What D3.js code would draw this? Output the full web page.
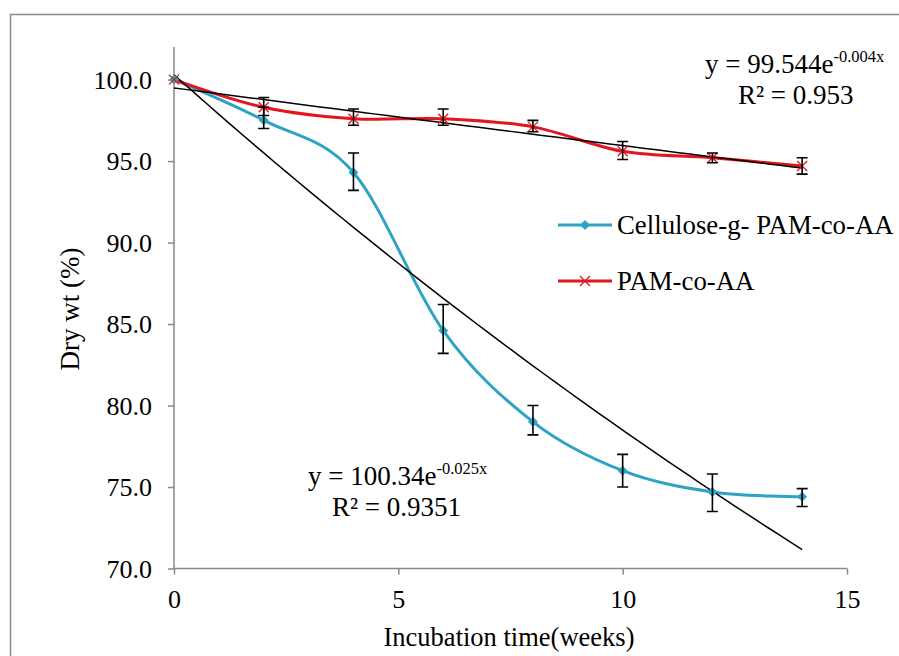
<!DOCTYPE html>
<html><head><meta charset="utf-8">
<script src="https://cdn.jsdelivr.net/npm/d3@7"></script>
<style>body{margin:0;background:#fff}svg{display:block}</style>
</head><body><svg id="c" width="899" height="656"></svg>
<script>
const weeks = [0, 2, 4, 6, 8, 10, 12, 14];
const celluloseVals = [100, 97.5, 94.3, 84.6, 79.0, 76.0, 74.7, 74.4];
const celluloseLo = [100, 97.0, 93.2, 83.2, 78.2, 75.0, 73.5, 73.8];
const celluloseHi = [100, 98.3, 95.5, 86.2, 80.0, 77.0, 75.8, 74.9];
const pamVals = [100, 98.3, 97.6, 97.6, 97.1, 95.6, 95.2, 94.7];
const pamLo = [100, 97.8, 97.2, 97.2, 96.8, 95.1, 94.9, 94.2];
const pamHi = [100, 98.9, 98.2, 98.2, 97.5, 96.2, 95.5, 95.2];
const xTicks = [0, 5, 10, 15];
const yTicks = [70, 75, 80, 85, 90, 95, 100];
const seriesNames = ["Cellulose-g- PAM-co-AA", "PAM-co-AA"];

const FONT = "Liberation Serif";
const svg = d3.select("#c");
const x = d3.scaleLinear().domain([0, 15]).range([174, 847]);
const y = d3.scaleLinear().domain([70, 102]).range([568.5, 47]);
const axisCol = "#898989";
const blue = "#2FA3C3", red = "#E2161F";

svg.append("rect").attr("x", 10.5).attr("y", 14.5).attr("width", 900).attr("height", 700)
  .attr("fill", "none").attr("stroke", "#8a8a8a").attr("stroke-width", 1.5);

// axes
const yAxis = svg.append("g").attr("transform", "translate(174,0)")
  .call(d3.axisLeft(y).tickValues(yTicks).tickSize(6).tickFormat(d3.format(".1f")));
const xAxis = svg.append("g").attr("transform", "translate(0,568.5)")
  .call(d3.axisBottom(x).tickValues(xTicks).tickSize(6).tickFormat(d3.format("d")));
[yAxis, xAxis].forEach(g => {
  g.selectAll("path,line").attr("stroke", axisCol).attr("stroke-width", 1.5);
  g.selectAll("text").attr("fill", "#000").style("font-family", FONT).style("font-size", "26px");
});
yAxis.select(".domain").attr("d", `M0,${y(102)}V${y(70)}`);
yAxis.selectAll("text").attr("x", -22).attr("dy", "0.34em");
xAxis.select(".domain").attr("d", `M${x(0)},0H${x(15)}`);
xAxis.selectAll("text").attr("y", 39.5).attr("dy", 0);

function txt(xp, yp, s, size, anchor) {
  return svg.append("text").attr("x", xp).attr("y", yp).style("font-family", FONT)
    .style("font-size", size + "px").attr("text-anchor", anchor || "start").attr("fill", "#000").text(s);
}
txt(0, 0, "Dry wt (%)", 27, "middle").attr("transform", "translate(79,309) rotate(-90)");
txt(509, 646, "Incubation time(weeks)", 26.5, "middle");

// exponential regression (Excel-like trendline)
function expFit(xs, ys) {
  const ly = ys.map(Math.log);
  const mx = d3.mean(xs), my = d3.mean(ly);
  const b = d3.sum(xs.map((v, i) => (v - mx) * (ly[i] - my))) / d3.sum(xs.map(v => (v - mx) ** 2));
  const a = Math.exp(my - b * mx);
  return t => a * Math.exp(b * t);
}
const fits = [expFit(weeks, celluloseVals), expFit(weeks, pamVals)];
const line = d3.line().x(d => x(d[0])).y(d => y(d[1]));
const lineSmooth = d3.line().x(d => x(d[0])).y(d => y(d[1])).curve(d3.curveCatmullRom.alpha(0));

const series = [
  {vals: celluloseVals, lo: celluloseLo, hi: celluloseHi, col: blue, mk: "diamond"},
  {vals: pamVals, lo: pamLo, hi: pamHi, col: red, mk: "x"}
];

function marker(g, cx, cy, type, col) {
  if (type === "diamond") {
    g.append("path").attr("d", `M${cx},${cy-5}L${cx+5},${cy}L${cx},${cy+5}L${cx-5},${cy}Z`).attr("fill", col);
  } else {
    g.append("path").attr("d", `M${cx-5},${cy-5}L${cx+5},${cy+5}M${cx-5},${cy+5}L${cx+5},${cy-5}`)
      .attr("stroke", col).attr("stroke-width", 1.3).attr("fill", "none");
  }
}

series.forEach(s => {
  svg.append("path").datum(weeks.map((w, i) => [w, s.vals[i]])).attr("d", lineSmooth)
    .attr("fill", "none").attr("stroke", s.col).attr("stroke-width", 3);
});
fits.forEach(f => {
  const pts = d3.range(0, 14.001, 0.25).map(t => [t, f(t)]);
  svg.append("path").datum(pts).attr("d", line).attr("fill", "none").attr("stroke", "#000").attr("stroke-width", 1.5);
});
series.forEach(s => {
  const g = svg.append("g");
  weeks.forEach((w, i) => marker(g, x(w), y(s.vals[i]), s.mk, s.col));
});
series.forEach(s => {
  const g = svg.append("g").attr("stroke", "#000").attr("stroke-width", 1.6).attr("fill", "none");
  weeks.forEach((w, i) => {
    if (s.hi[i] === s.lo[i]) return;
    const cx = x(w), y1 = y(s.hi[i]), y2 = y(s.lo[i]);
    g.append("path").attr("d", `M${cx},${y1}V${y2}M${cx-5.5},${y1}H${cx+5.5}M${cx-5.5},${y2}H${cx+5.5}`);
  });
});

// legend
seriesNames.forEach((nm, i) => {
  const ly = 225 + i * 56;
  svg.append("line").attr("x1", 558).attr("x2", 612).attr("y1", ly).attr("y2", ly)
    .attr("stroke", series[i].col).attr("stroke-width", 3);
  marker(svg, 585, ly, series[i].mk, series[i].col);
  txt(617, ly + 9, nm, 26.8);
});

// equations
function eq(xp, yp, base, sup, r2, r2x) {
  const t = txt(xp, yp, "", 27);
  t.append("tspan").text(base);
  t.append("tspan").attr("dy", -11).style("font-size", "16.5px").text(sup);
  txt(r2x, yp + 31, r2, 27);
}
eq(705, 73, "y = 99.544e", "-0.004x", "R² = 0.953", 738);
eq(308, 485, "y = 100.34e", "-0.025x", "R² = 0.9351", 332);
</script></body></html>
